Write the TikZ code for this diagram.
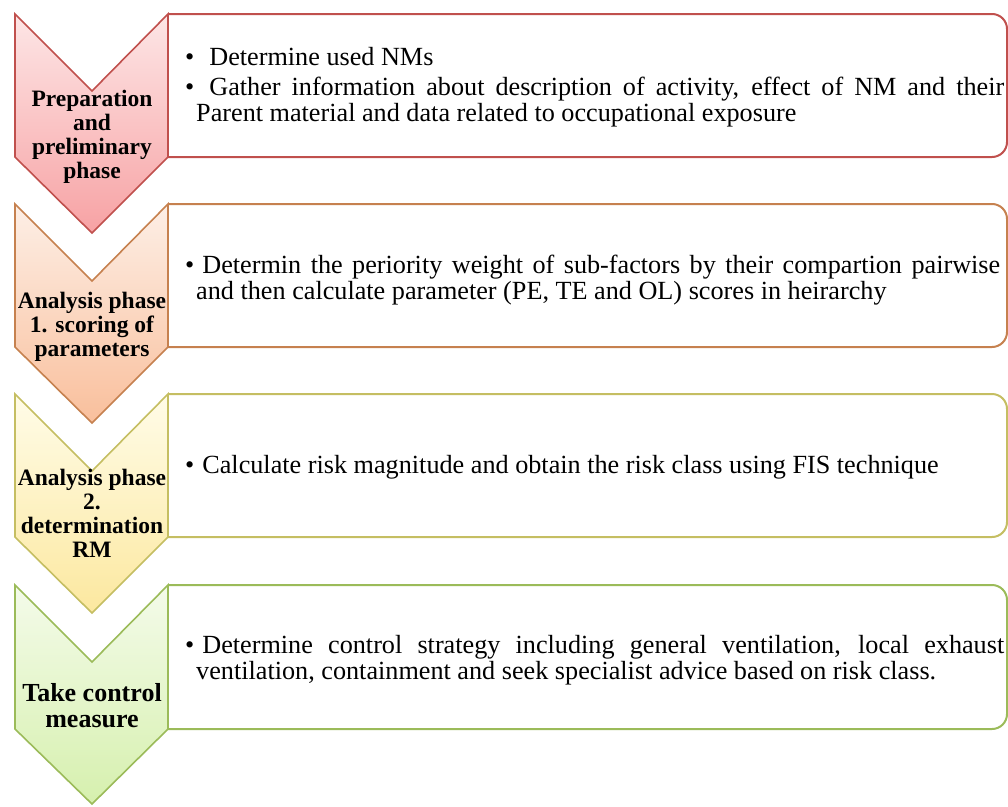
\documentclass[tikz,border=0pt]{standalone}
\usepackage{fontspec}
\setmainfont{Liberation Serif}
\definecolor{bdA}{HTML}{C0504D}
\definecolor{tA}{HTML}{FDE6E6}
\definecolor{uA}{HTML}{F7A2A4}
\definecolor{bdB}{HTML}{C6814F}
\definecolor{tB}{HTML}{FDEFE6}
\definecolor{uB}{HTML}{F9BF9C}
\definecolor{bdC}{HTML}{C5BE62}
\definecolor{tC}{HTML}{FFFCE8}
\definecolor{uC}{HTML}{FCE89F}
\definecolor{bdD}{HTML}{9BBB59}
\definecolor{tD}{HTML}{F4FBEA}
\definecolor{uD}{HTML}{D6F0AE}
\begin{document}
\begin{tikzpicture}[x=1pt,y=-1pt,
  chev/.style={line width=1.6pt, line join=miter},
  chevA/.style={chev, draw=bdA, top color=tA, bottom color=uA},
  chevB/.style={chev, draw=bdB, top color=tB, bottom color=uB},
  chevC/.style={chev, draw=bdC, top color=tC, bottom color=uC},
  chevD/.style={chev, draw=bdD, top color=tD, bottom color=uD},
  panel/.style={fill=white, line width=2pt, rounded corners=15pt},
  lbl/.style={inner sep=0pt, anchor=base, font=\bfseries\fontsize{23.5}{24}\selectfont},
  lblbig/.style={inner sep=0pt, anchor=base, font=\bfseries\fontsize{26}{26.5}\selectfont},
  txt/.style={inner sep=0pt, anchor=base west, font=\fontsize{26.2}{26}\selectfont}]
\useasboundingbox (0,0) rectangle (1008,806);
% panels
\filldraw[panel, draw=bdA] (168,14) -- (1007,14) -- (1007,157) -- (168,157);
\filldraw[panel, draw=bdB] (168,204) -- (1007,204) -- (1007,347) -- (168,347);
\filldraw[panel, draw=bdC] (168,394) -- (1007,394) -- (1007,537) -- (168,537);
\filldraw[panel, draw=bdD] (168,585) -- (1007,585) -- (1007,729) -- (168,729);
% chevrons
\filldraw[chevA] (15,14) -- (92,91) -- (168,14) -- (168,157) -- (92,233) -- (15,157) -- cycle;
\filldraw[chevB] (15,204) -- (92,281) -- (168,204) -- (168,347) -- (92,423) -- (15,347) -- cycle;
\filldraw[chevC] (15,394) -- (92,471) -- (168,394) -- (168,537) -- (92,613) -- (15,537) -- cycle;
\filldraw[chevD] (15,585) -- (92,662) -- (168,585) -- (168,729) -- (92,804) -- (15,729) -- cycle;
% labels
\node[lbl] (l1) at (92,106) {\parbox[t]{160pt}{\centering Preparation\\and\\preliminary\\phase}};
\node[lbl] (l2) at (92,308) {\parbox[t]{160pt}{\centering Analysis phase\\1. scoring of\\parameters}};
\node[lbl] (l3) at (92,485) {\parbox[t]{160pt}{\centering Analysis phase\\2.\\determination\\RM}};
\node[lblbig] (l4) at (92,701) {\parbox[t]{160pt}{\centering Take control\\measure}};
% texts
\node[txt] (t1) at (196,65) {\parbox[t]{808pt}{\hyphenpenalty=10000\exhyphenpenalty=10000\tolerance=9999
\noindent\hspace*{-11pt}\textbullet\hspace{15pt}Determine used NMs\par\vspace{4pt}
\noindent\hspace*{-11pt}\textbullet\hspace{15pt}Gather information about description of activity, effect of NM and their\linebreak Parent material and data related to occupational exposure}};
\node[txt] (t2) at (196,273) {\parbox[t]{804pt}{\hyphenpenalty=10000\exhyphenpenalty=10000\tolerance=9999
\noindent\hspace*{-11pt}\textbullet\hspace{8pt}Determin the periority weight of sub-factors by their compartion pairwise\linebreak and then calculate parameter (PE, TE and OL) scores in heirarchy}};
\node[txt] (t3) at (196,473) {\parbox[t]{808pt}{\hyphenpenalty=10000\exhyphenpenalty=10000\tolerance=9999
\noindent\hspace*{-11pt}\textbullet\hspace{8pt}Calculate risk magnitude and obtain the risk class using FIS technique}};
\node[txt] (t4) at (196,653) {\parbox[t]{808pt}{\hyphenpenalty=10000\exhyphenpenalty=10000\tolerance=9999
\noindent\hspace*{-11pt}\textbullet\hspace{8pt}Determine control strategy including general ventilation, local exhaust\linebreak ventilation, containment and seek specialist advice based on risk class.}};
\end{tikzpicture}
\end{document}
